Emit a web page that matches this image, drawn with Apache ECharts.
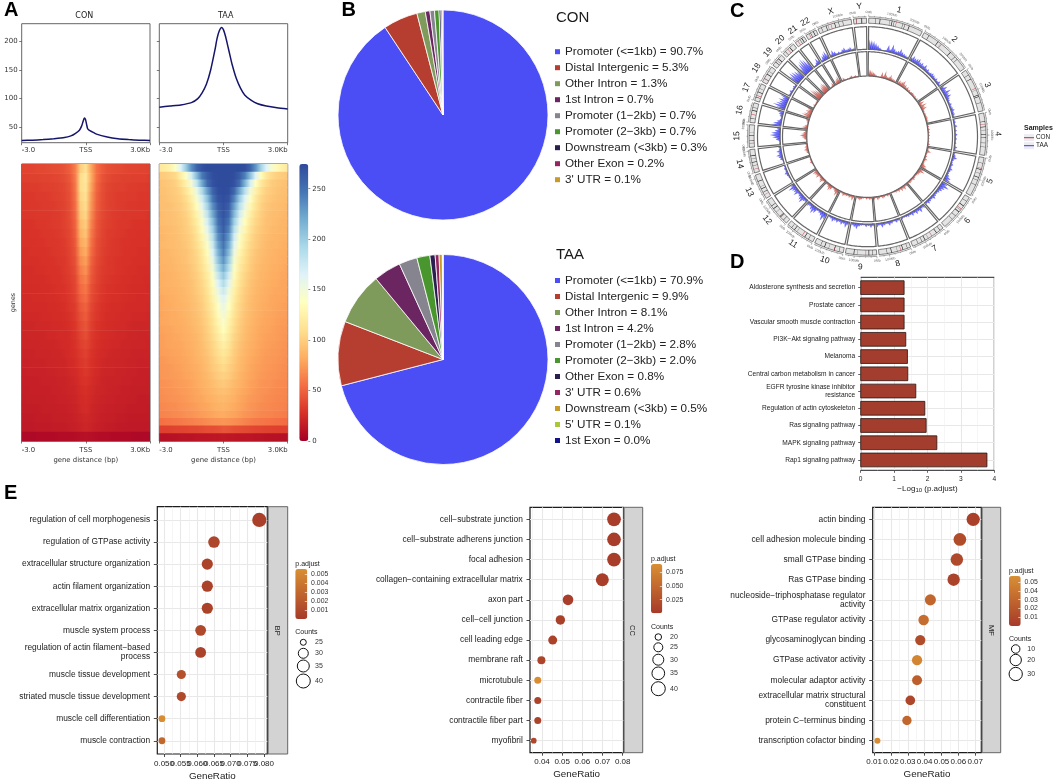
<!DOCTYPE html>
<html><head><meta charset="utf-8">
<style>html,body{margin:0;padding:0;background:#fff}#c{width:1056px;height:784px}</style>
<script src="https://cdn.jsdelivr.net/npm/echarts@6/dist/echarts.min.js"></script>
</head><body><div id="c"></div>
<script>
// ---------- DATA ----------
const profileConX=[-3,-2.5,-2,-1.5,-1,-0.7,-0.5,-0.3,-0.2,-0.13,-0.07,-0.02,0.03,0.08,0.15,0.3,0.5,1,1.5,2,2.5,3];
const profileConY=[27,27.5,28.5,30,32,35,39,45,52,60,66,64,56,48,45,42,38,33,30,28.5,27.5,27];
const profileTaaX=[-3,-2.5,-2,-1.5,-1.2,-1,-0.8,-0.6,-0.4,-0.3,-0.2,-0.085,0,0.1,0.2,0.3,0.4,0.6,0.8,1,1.3,1.6,2,2.5,3];
const profileTaaY=[85,87,89,93,100,110,125,150,185,205,218,224,220,208,192,176,160,135,118,106,97,91,87,84,82];
const heatTaa=[
[118,120,126,140,165,200,235,258,270,274,274,274,274,274,274,274,272,258,232,195,165,145,132,124,118],
[98,99,102,106,122,140,170,210,245,262,272,274,274,274,272,262,242,208,165,135,115,106,101,98,96],
[94,95,97,101,110,125,148,180,222,255,270,274,274,274,270,252,215,170,138,118,106,99,96,94,92],
[93,94,96,99,104,115,130,155,190,228,258,272,274,272,256,222,185,150,125,110,101,97,94,92,91],
[92,93,95,97,101,108,122,145,172,208,248,268,272,268,240,200,165,140,118,105,98,95,93,91,90],
[91,92,93,96,99,105,116,135,160,195,235,262,270,262,225,185,155,130,113,102,96,93,91,90,88],
[89,91,92,94,97,102,111,127,150,182,222,256,268,256,212,172,145,123,108,100,94,91,90,88,87],
[90,91,92,94,96,100,108,121,142,170,208,250,265,248,198,160,136,117,105,98,93,91,89,87,86],
[88,89,90,92,95,99,105,116,135,160,196,243,262,240,185,150,129,112,102,96,92,89,88,86,85],
[87,88,90,91,94,97,102,112,128,150,185,235,255,230,172,141,122,108,99,94,90,88,86,85,84],
[88,89,90,91,93,96,101,109,122,142,175,226,248,220,162,135,118,105,98,93,89,87,86,84,83],
[85,86,88,90,92,94,99,106,117,135,166,216,242,210,153,128,113,102,95,91,88,86,84,83,82],
[85,86,87,89,91,94,98,104,114,130,158,205,232,198,146,123,110,100,94,90,87,85,84,82,81],
[84,85,86,88,90,92,96,102,111,125,150,192,218,186,140,119,107,98,92,88,86,84,83,81,80],
[83,84,85,87,89,91,95,100,108,120,142,178,202,172,134,115,104,96,91,87,85,83,82,80,79],
[82,84,85,86,88,90,93,98,105,116,135,165,188,160,128,112,102,94,89,86,84,82,81,79,78],
[82,83,84,85,87,89,92,97,103,113,130,155,175,150,124,108,99,93,88,85,83,81,80,79,78],
[80,81,83,84,86,88,91,95,101,110,125,147,165,143,120,106,97,91,87,84,82,80,79,78,77],
[80,81,82,84,85,87,90,94,99,108,120,140,157,137,116,104,96,90,86,83,81,80,78,77,76],
[78,80,81,82,84,86,89,92,97,105,116,134,150,131,113,102,94,89,85,82,80,79,77,76,75],
[79,80,81,82,83,85,88,91,96,103,113,129,143,126,110,100,93,88,84,81,79,78,76,75,74],
[77,78,79,81,82,84,86,90,94,101,110,124,136,122,107,98,91,86,83,80,78,77,75,74,73],
[76,77,78,80,81,83,85,88,93,99,107,119,129,117,104,96,90,85,82,79,77,76,75,73,72],
[76,77,78,79,80,82,84,87,91,97,104,114,123,113,101,94,88,84,81,78,76,75,74,72,71],
[75,76,77,78,79,81,83,86,90,95,102,110,117,109,99,92,87,83,80,77,75,74,73,71,70],
[73,74,76,77,78,80,82,85,88,93,99,106,112,105,97,90,85,81,78,76,74,73,72,70,69],
[72,73,74,76,77,79,81,83,87,91,97,102,107,101,95,89,84,80,77,75,73,72,71,69,68],
[72,73,74,75,76,78,80,82,85,89,94,99,102,98,92,87,82,79,76,74,72,71,70,68,67],
[70,71,72,74,75,76,78,81,84,87,91,95,97,94,89,85,81,77,75,72,71,70,68,67,66],
[69,70,71,72,74,75,77,79,82,85,88,91,93,90,86,82,79,76,73,71,70,68,67,66,65],
[68,69,70,71,72,74,76,78,80,83,85,88,89,87,84,80,77,74,72,70,68,67,66,65,64],
[66,67,68,69,71,72,74,76,78,80,83,85,86,84,81,78,75,72,70,68,67,66,65,64,63],
[64,65,66,67,68,70,71,73,75,77,79,81,82,80,78,75,72,70,68,66,65,64,63,62,61],
[56,57,58,59,60,62,63,65,66,68,70,71,72,71,69,67,64,62,60,59,58,57,56,55,54],
[34,34,35,36,36,37,38,38,39,41,41,42,44,43,41,40,39,38,37,36,35,35,34,34,34],
[9,9,10,10,11,11,11,12,12,12,13,13,14,13,13,12,12,12,11,11,10,10,10,9,9]];
const heatCon=[
[36,36,37,38,38,39,40,41,43,48,62,100,112,80,56,47,42,40,39,38,37,37,36,36,35],
[34,34,35,35,36,36,37,38,40,45,60,108,118,82,55,44,39,37,36,35,35,34,34,34,33],
[32,32,33,33,34,34,35,36,38,43,58,108,115,78,52,42,37,35,34,34,33,33,32,32,31],
[31,31,31,32,32,33,34,35,37,42,56,104,112,74,50,41,36,34,33,33,32,32,31,31,30],
[30,30,31,31,32,32,33,34,36,41,54,100,108,72,49,40,36,34,33,32,31,31,30,30,30],
[30,30,30,31,31,31,32,33,35,40,52,96,104,68,47,39,35,33,32,31,31,30,30,30,29],
[29,29,29,30,30,31,32,33,35,39,50,90,99,64,45,38,34,33,31,31,30,29,29,29,28],
[28,28,29,29,30,30,31,32,34,38,48,85,94,60,44,37,33,32,31,30,29,29,28,28,28],
[28,28,28,29,29,30,30,31,33,37,46,80,88,57,42,36,33,31,30,29,29,28,28,28,27],
[27,27,28,28,28,29,30,31,32,36,44,74,82,54,41,35,32,31,30,29,28,28,27,27,27],
[27,27,27,27,28,28,29,30,31,35,42,68,76,50,39,34,31,30,29,28,28,27,27,27,26],
[26,26,26,27,27,28,28,29,31,34,40,62,70,47,38,33,31,30,29,28,27,27,26,26,26],
[26,26,26,26,26,27,28,28,30,33,38,57,64,45,37,32,30,29,28,27,27,26,26,25,25],
[25,25,25,25,26,26,27,28,29,32,37,53,59,42,35,31,29,28,27,27,26,25,25,25,24],
[24,24,25,25,25,26,26,27,28,31,35,49,55,40,34,30,28,27,27,26,25,25,24,24,24],
[24,24,24,24,24,25,25,26,27,30,33,45,50,38,32,29,27,26,26,25,24,24,24,24,23],
[23,23,23,23,24,24,25,25,26,28,32,42,47,36,31,28,26,26,25,24,24,23,23,23,22],
[22,22,22,23,23,23,24,24,25,27,30,39,44,34,29,27,25,25,24,24,23,22,22,22,22],
[21,22,22,22,22,23,23,24,24,26,29,36,41,32,28,26,25,24,23,23,22,22,21,21,21],
[21,21,21,21,22,22,22,23,24,25,28,34,38,31,27,25,24,23,23,22,22,21,21,21,20],
[20,20,20,21,21,21,22,22,23,25,27,32,35,29,26,24,23,22,22,21,21,20,20,20,20],
[19,19,20,20,20,21,21,22,22,24,26,30,33,28,25,23,22,22,21,21,20,20,19,19,19],
[18,19,19,19,19,20,20,21,21,23,24,28,31,27,24,22,21,21,20,20,19,19,18,18,18],
[18,18,18,18,19,19,19,20,20,22,23,27,29,26,23,21,20,20,20,19,19,18,18,18,17],
[17,17,18,18,18,18,19,19,20,21,22,25,27,24,22,21,20,19,19,18,18,17,17,17,17],
[16,17,17,17,17,18,18,19,19,20,21,24,26,23,21,20,19,19,18,18,17,17,16,16,16],
[16,16,16,16,17,17,17,18,18,19,20,23,25,22,20,19,18,18,17,17,16,16,16,16,15],
[15,15,15,16,16,16,17,17,17,18,19,21,23,21,19,18,17,17,16,16,15,15,15,15,15],
[14,14,14,15,15,15,16,16,16,17,18,20,22,20,18,17,16,16,15,15,14,14,14,14,14],
[5,5,5,6,6,6,6,7,7,7,8,9,10,9,8,7,7,6,6,6,6,5,5,5,5]];
const pieConNames=["Promoter (<=1kb)","Distal Intergenic","Other Intron","1st Intron","Promoter (1\u22122kb)","Promoter (2\u22123kb)","Downstream (<3kb)","Other Exon","3' UTR"];
const pieConValues=[90.7,5.3,1.3,0.7,0.7,0.7,0.3,0.2,0.1];
const pieTaaNames=["Promoter (<=1kb)","Distal Intergenic","Other Intron","1st Intron","Promoter (1\u22122kb)","Promoter (2\u22123kb)","Other Exon","3' UTR","Downstream (<3kb)","5' UTR","1st Exon"];
const pieTaaValues=[70.9,9.9,8.1,4.2,2.8,2.0,0.8,0.6,0.5,0.1,0.0];
const chrNames=["1","2","3","4","5","6","7","8","9","10","11","12","13","14","15","16","17","18","19","20","21","22","X","Y"];
const chrLengths=[249,243,198,191,181,171,159,146,141,135,135,133,115,107,102,90,81,78,59,63,48,51,155,59];
const cytoDark=[[.12,.2,.38,.42,.46,.62,.66,.74],[.1,.3,.36,.6,.72,.78],[.12,.22,.5,.62,.66,.8],[.2,.32,.4,.5,.58,.7,.8],[.14,.3,.4,.5,.58,.7],[.12,.26,.4,.46,.6,.72],[.1,.22,.5,.6,.7,.82],[.1,.24,.42,.6,.74],[.12,.24,.62,.72],[.14,.3,.5,.64,.78],[.16,.3,.62,.72,.84],[.14,.3,.5,.64,.76],[.26,.4,.5,.72],[.3,.44,.6,.72],[.3,.5,.64],[.2,.6,.76],[.2,.5,.72],[.22,.5,.7],[.3,.62],[.2,.62],[.5,.7],[.44,.7],[.1,.24,.3,.5,.62,.74],[.2,.6,.64]];
const cytoRed=[.5,.38,.46,.26,.27,.36,.38,.31,.34,.3,.4,.27,.15,.15,.17,.4,.3,.2,.46,.44,.27,.29,.39,.21];
const taaSignal=[
[45,42,38,30,22,12,4,2,6,30,12,38,22,14,18,30,20,16,12,10],
[18,28,22,26,30,20,24,16,26,14,18,10,14,18,16,12,16,10,18,8],
[20,30,18,36,22,28,16,12,8,14,10,14,18,12,14,10],
[8,10,6,14,6,10,4,12,6,10,5,8,5,14,8],
[10,14,22,10,8,14,10,18,12,10,16,28,34],
[30,42,28,22,16,12,14,20,12,14,18,10],
[18,14,26,16,22,12,18,10,14,10,8,10],
[10,16,8,14,20,10,14,22,10,18],
[12,18,10,14,6,8,14,26,18,12],
[16,28,14,20,12,18,14,22,12,10],
[30,40,22,14,10,28,36,24,14,20],
[14,18,34,26,18,12,30,22,24,36,20],
[4,2,6,10,16,8,10,6],
[2,4,14,18,26,14,22,10,12],
[6,4,20,34,46,40,26,16],
[46,36,22,10,6,14,20,30],
[40,58,46,36,42,30,44],
[10,8,14,6,8,12,8],
[50,60,55,48,40],
[40,58,65,72,60,45],
[4,6,14,30,18],
[8,26,34,40,24],
[14,28,18,8,12,6,16,22,10,14,18,8,12],
[1,1,1,1,1]];
const conSignal=[
[30,26,22,18,14,8,3,2,4,24,10,32,16,10,14,24,14,12,10,6],
[12,20,16,22,30,16,18,10,16,8,12,6,10,12,10,8,10,6,10,5],
[14,26,12,30,18,24,10,8,6,10,8,10,12,8,10,6],
[5,8,4,10,4,8,3,8,4,6,3,6,3,10,5],
[8,10,20,8,6,10,8,16,10,8,12,24,30],
[22,30,16,14,10,8,10,14,8,10,12,6],
[14,10,20,12,18,8,14,8,10,6,5,6],
[8,12,6,10,14,6,10,16,6,12],
[8,12,6,10,4,6,10,16,12,8],
[10,22,10,14,8,12,10,16,8,6],
[24,30,16,10,6,20,26,16,10,14],
[10,12,24,18,12,8,22,16,18,24,12],
[3,2,4,6,10,6,6,4],
[2,3,10,12,18,10,14,6,8],
[4,3,14,22,30,24,16,10],
[28,22,14,6,4,8,12,18],
[26,38,30,22,28,20,30],
[6,5,10,4,6,8,5],
[40,55,48,40,30],
[24,34,40,44,38,28],
[3,4,8,18,10],
[6,18,24,30,16],
[6,14,8,4,6,3,8,12,5,7,9,4,6],
[0,0,0,0,0]];
const keggNames=["Aldosterone synthesis and secretion","Prostate cancer","Vascular smooth muscle contraction","PI3K\u2212Akt signaling pathway","Melanoma","Central carbon metabolism in cancer","EGFR tyrosine kinase inhibitor\nresistance","Regulation of actin cytoskeleton","Ras signaling pathway","MAPK signaling pathway","Rap1 signaling pathway"];
const keggValues=[1.3,1.3,1.3,1.35,1.4,1.41,1.65,1.92,1.96,2.28,3.78];
const bpNames=["regulation of cell morphogenesis","regulation of GTPase activity","extracellular structure organization","actin filament organization","extracellular matrix organization","muscle system process","regulation of actin filament\u2212based\nprocess","muscle tissue development","striated muscle tissue development","muscle cell differentiation","muscle contraction"];
const bpRatio=[.0786,.065,.063,.063,.063,.061,.061,.0552,.0552,.0494,.0494];
const bpP=[.0004,.0008,.0005,.0005,.0006,.001,.0006,.0015,.001,.0055,.003];
const bpCount=[41,34,33,33,33,32,32,29,29,26,26];
const ccNames=["cell\u2212substrate junction","cell\u2212substrate adherens junction","focal adhesion","collagen\u2212containing extracellular matrix","axon part","cell\u2212cell junction","cell leading edge","membrane raft","microtubule","contractile fiber","contractile fiber part","myofibril"];
const ccRatio=[.0757,.0757,.0757,.0699,.0529,.0491,.0453,.0397,.0379,.0379,.0379,.0359];
const ccP=[.003,.003,.003,.003,.005,.006,.008,.012,.088,.009,.009,.014];
const ccCount=[39,39,39,36,29,26,25,23,21,21,21,19];
const mfNames=["actin binding","cell adhesion molecule binding","small GTPase binding","Ras GTPase binding","nucleoside\u2212triphosphatase regulator\nactivity","GTPase regulator activity","glycosaminoglycan binding","GTPase activator activity","molecular adaptor activity","extracellular matrix structural\nconstituent","protein C\u2212terminus binding","transcription cofactor binding"];
const mfRatio=[.0688,.0609,.0591,.0572,.0434,.0394,.0374,.0355,.0355,.0315,.0295,.012];
const mfP=[.004,.012,.01,.006,.03,.035,.012,.05,.025,.008,.03,.055];
const mfCount=[30,27,26,25,19,17,16,16,15,14,13,5];

// ---------- STYLE / LAYOUT ----------
const ARIAL='"Liberation Sans",Arial,sans-serif', DJV='"DejaVu Sans",sans-serif';
const RDYLBU=['#a50026','#d73027','#f46d43','#fdae61','#fee090','#ffffbf','#e0f3f8','#abd9e9','#74add1','#4575b4','#2f4a9c'];
const PCOL=['#a63a29','#d98f33'];
const pieColCon=['#4b4ef5','#b53e30','#7f9b5c','#6b2560','#86848f','#48962d','#2a1f4f','#962660','#c89a28'];
const pieColTaa=['#4b4ef5','#b53e30','#7f9b5c','#6b2560','#86848f','#48962d','#2a1f4f','#962660','#c89a28','#a8c838','#12128a'];
const grids=[],xAxes=[],yAxes=[],series=[],visualMaps=[],gfx=[];
const rect=(x0,y0,x1,y1,o={})=>({left:x0,top:y0,width:x1-x0,height:y1-y0,containLabel:false,...o});
function addGrid(g){grids.push(g);return grids.length-1;}
function addX(a){xAxes.push(a);return xAxes.length-1;}
function addY(a){yAxes.push(a);return yAxes.length-1;}
function txt(x,y,s,size,o={}){gfx.push({type:'text',x,y,rotation:o.rot||0,silent:true,z:20,style:{text:s,fontSize:size,fontFamily:o.ff||ARIAL,fontWeight:o.w||'normal',fill:o.c||'#222',align:o.a||'left',verticalAlign:'middle'}});}
const hiddenAxis=(gridIndex,extra)=>({gridIndex,show:false,...extra});
const seq=n=>Array.from({length:n},(_,i)=>i);

// ---------- PANEL A ----------
const aFrame={show:true,borderColor:'#666',borderWidth:1,backgroundColor:'#fff'};
function aXAxis(gi,margin,extra){return {type:'value',gridIndex:gi,min:-3,max:3,interval:3,
  axisLine:{show:false,onZero:false},axisTick:{length:2.5,lineStyle:{color:'#444',width:.7}},splitLine:{show:false},
  axisLabel:{fontSize:6.9,fontFamily:DJV,color:'#333',margin,alignMinLabel:'left',alignMaxLabel:'right',formatter:v=>v===-3?'-3.0':v===3?'3.0Kb':'TSS'},...extra};}
[[21.7,150,profileConX,profileConY,true,'CON',84.3],[159.3,287.7,profileTaaX,profileTaaY,false,'TAA',225.7]].forEach(([x0,x1,px,py,labels,name,cx])=>{
  const gi=addGrid(rect(x0,23.7,x1,142.7,aFrame));
  const xi=addX(aXAxis(gi,4)),yi=addY({type:'value',gridIndex:gi,min:23.1,max:230.7,axisLine:{show:false,onZero:false},splitLine:{show:false},
    axisTick:{length:2.5,customValues:[50,100,150,200],lineStyle:{color:'#444',width:.7}},
    axisLabel:{show:labels,customValues:[50,100,150,200],fontSize:7,fontFamily:DJV,color:'#333',margin:4}});
  series.push({type:'line',name,xAxisIndex:xi,yAxisIndex:yi,data:px.map((v,i)=>[v,py[i]]),showSymbol:false,smooth:.2,lineStyle:{color:'#15156b',width:1.5},silent:true});
  txt(cx,16,name,8,{ff:DJV,a:'center'});
});
const heatSeriesIdx=[];
[[21.7,150,heatCon,'genes','heat CON'],[159.3,287.7,heatTaa,'','heat TAA']].forEach(([x0,x1,tbl,yname,sname])=>{
  const gi=addGrid(rect(x0,164,x1,441,{show:true,borderColor:'#555',borderWidth:1}));
  const xi=addX(aXAxis(gi,6,{name:'gene distance (bp)',nameLocation:'middle',nameGap:15.5,nameTextStyle:{fontSize:6.9,fontFamily:DJV,color:'#333'}}));
  const yi=addY({type:'value',gridIndex:gi,min:0,max:tbl.length,inverse:true,axisLine:{show:false,onZero:false},axisTick:{show:false},axisLabel:{show:false},splitLine:{show:false},
    name:yname,nameLocation:'middle',nameGap:5.5,nameRotate:90,nameTextStyle:{fontSize:6.4,fontFamily:DJV,color:'#333'}});
  heatSeriesIdx.push(series.length);
  series.push({type:'custom',name:sname,xAxisIndex:xi,yAxisIndex:yi,silent:true,encode:{x:1,y:0},
    data:tbl.map((r,j)=>[j,-3,3]),
    renderItem:(p,api)=>{const j=api.value(0),a=api.coord([-3,j]),b=api.coord([3,j+1]),row=tbl[j];
      const stops=row.map((v,i)=>({offset:i/(row.length-1),color:echarts.color.lerp(v/274.5,RDYLBU)}));
      return {type:'rect',shape:{x:a[0],y:a[1],width:b[0]-a[0],height:b[1]-a[1]+.6},style:{fill:new echarts.graphic.LinearGradient(0,0,1,0,stops)}};}});
});
visualMaps.push({type:'continuous',seriesIndex:heatSeriesIdx,dimension:0,min:0,max:274.5,left:299.3,top:164,itemWidth:9,itemHeight:277,padding:0,text:null,calculable:false,realtime:false,inRange:{color:RDYLBU},textStyle:{fontSize:0.1,color:'rgba(0,0,0,0)'},formatter:()=>''});
(()=>{const gi=addGrid(rect(299.3,164,308.3,441));
  addX(hiddenAxis(gi,{type:'value',min:0,max:1}));
  addY({type:'value',gridIndex:gi,position:'right',min:0,max:274.5,interval:50,axisLine:{show:false,onZero:false},splitLine:{show:false},axisTick:{length:2,lineStyle:{color:'#444',width:.6}},axisLabel:{fontSize:7,fontFamily:DJV,color:'#333',margin:4,showMaxLabel:false}});
})();

// ---------- PANEL B ----------
function addPie(names,vals,cols,cy,ltop,title,ty){
  series.push({type:'pie',name:title,center:[443,cy],radius:[0,105],startAngle:90,clockwise:true,label:{show:false},labelLine:{show:false},silent:true,
    data:names.map((n,i)=>({name:n,value:vals[i],itemStyle:{color:cols[i],borderColor:'#fff',borderWidth:.8}}))});
  txt(556,ty,title,15,{c:'#1a1a1a'});
  return {orient:'vertical',left:555,top:ltop,padding:0,itemWidth:5,itemHeight:5,itemGap:4,selectedMode:false,icon:'rect',
    data:names.map((n,i)=>({name:n,itemStyle:{color:cols[i],borderWidth:0},textStyle:{fontSize:11.7,fontFamily:ARIAL,color:'#222',lineHeight:12}})),
    formatter:n=>n+' = '+vals[names.indexOf(n)].toFixed(1)+'%'};
}
const legends=[addPie(pieConNames,pieConValues,pieColCon,115,45.7,'CON',17.5),addPie(pieTaaNames,pieTaaValues,pieColTaa,359.5,274.5,'TAA',255)];

// ---------- PANEL C ----------
const GAP=10,offsets=[];let total=0;chrLengths.forEach(l=>{offsets.push(total);total+=l+GAP;});
const pathPts=(api,r0,r1,a0,a1)=>{const n=Math.max(2,Math.ceil((a1-a0)/6)),p=[];for(let i=0;i<=n;i++)p.push(api.coord([r1,a0+(a1-a0)*i/n]));for(let i=n;i>=0;i--)p.push(api.coord([r0,a0+(a1-a0)*i/n]));return p;};
const TR={ideo:[113.4,118.5],taa:[87.4,110],con:[60.7,85]};
function spikeSeries(name,sig,track,color){
  const d=[];sig.forEach((a,i)=>a.forEach((h,b)=>d.push([i,b,h])));
  series.push({type:'custom',name,coordinateSystem:'polar',polarIndex:0,silent:true,data:d,z:3,encode:{radius:0,angle:1},
    renderItem:(p,api)=>{const i=api.value(0),b=api.value(1),h=api.value(2),n=sig[i].length,L=chrLengths[i],w=L/n,pos=offsets[i]+(b+.5)*w,r0=track[0],rng=track[1]-track[0];
      if(!h)return null;
      const lo=Math.max(offsets[i],pos-w*.95),hi=Math.min(offsets[i]+L,pos+w*.95);
      return {type:'polygon',shape:{points:[api.coord([r0,lo]),api.coord([r0+rng*h/100,pos]),api.coord([r0,hi])]},style:{fill:color,opacity:.72,stroke:null}};}});
}
series.push({type:'custom',name:'tracks',coordinateSystem:'polar',polarIndex:0,silent:true,z:4,encode:{radius:0,angle:1},
  data:chrNames.map((_,i)=>[i,i]),
  renderItem:(p,api)=>{const i=api.value(0),a0=offsets[i],a1=a0+chrLengths[i],ch=[];
    [TR.taa,TR.con].forEach(t=>ch.push({type:'polygon',shape:{points:pathPts(api,t[0],t[1],a0,a1)},style:{fill:'none',stroke:'#666',lineWidth:1.2}}));
    ch.push({type:'polygon',shape:{points:pathPts(api,TR.ideo[0],TR.ideo[1],a0,a1)},style:{fill:'#e4e4e4',stroke:'#333',lineWidth:.6}});
    cytoDark[i].forEach((f,k)=>{const s=a0+f*chrLengths[i],w=k%2?2.6:1.6;ch.push({type:'polygon',shape:{points:pathPts(api,TR.ideo[0],TR.ideo[1],s,s+w)},style:{fill:k%3==2?'#666':'#0c0c0c'}});});
    const cr=a0+cytoRed[i]*chrLengths[i];ch.push({type:'polygon',shape:{points:pathPts(api,TR.ideo[0],TR.ideo[1],cr,cr+2)},style:{fill:'#c8434a'}});
    ch.push({type:'polyline',shape:{points:Array.from({length:9},(_,k)=>api.coord([120,a0+(a1-a0)*k/8]))},style:{stroke:'#444',lineWidth:.5,fill:'none'}});
    for(let m=0;m<=chrLengths[i];m+=25){const pt0=api.coord([120,a0+m]),pt1=api.coord([m%100?121:122,a0+m]);ch.push({type:'line',shape:{x1:pt0[0],y1:pt0[1],x2:pt1[0],y2:pt1[1]},style:{stroke:'#444',lineWidth:.4}});}
    const flip=th=>(th>Math.PI/2&&th<Math.PI*1.5)?th-Math.PI:th;
    for(let m=0;m<=chrLengths[i];m+=100){const pos=a0+m,th=(pos/total)*2*Math.PI+.009,pt=api.coord([124.5,pos]);
      ch.push({type:'text',x:pt[0],y:pt[1],rotation:-flip(th),style:{text:m+'Mb',fontSize:3.4,fontFamily:ARIAL,fill:'#666',align:'center',verticalAlign:'middle'}});}
    const mid=a0+chrLengths[i]/2,th=(mid/total)*2*Math.PI+.009,lp=api.coord([130.5,mid]);
    ch.push({type:'text',x:lp[0],y:lp[1],rotation:-flip(th),style:{text:chrNames[i],fontSize:8.5,fontFamily:ARIAL,fill:'#222',align:'center',verticalAlign:'middle'}});
    return {type:'group',children:ch};}});
spikeSeries('TAA',taaSignal,TR.taa,'#3a3af0');
spikeSeries('CON',conSignal,TR.con,'#c0453c');
txt(1024,128,'Samples',7,{w:'bold'});
[[137.7,'CON','#b8352c'],[145.7,'TAA','#3a3af0']].forEach(([y,n,c])=>{
  gfx.push({type:'rect',x:1024,y:y-3.5,silent:true,shape:{width:10,height:7},style:{fill:'#ececf2'}});
  gfx.push({type:'line',silent:true,z:21,shape:{x1:1024,y1:y,x2:1034,y2:y},style:{stroke:c,lineWidth:1}});
  txt(1036,y,n,6.4);
});

// ---------- PANEL D ----------
function ggGrid(w){return {m:{show:true,lineStyle:{color:'#e8e8e8',width:w}},n:{show:true,lineStyle:{color:'#efefef',width:w*.55}}};}
(()=>{
  const gi=addGrid(rect(860.7,277.3,994.3,470.3,{show:true,borderColor:'#222',borderWidth:1}));
  const n=keggNames.length,g=ggGrid(1);
  const xi=addX({type:'value',gridIndex:gi,min:0,max:4,interval:1,axisLine:{show:false,onZero:false},axisTick:{length:2.5,lineStyle:{color:'#222',width:.7}},splitLine:g.m,
    axisLabel:{fontSize:6.6,fontFamily:ARIAL,color:'#222',margin:5,showMinLabel:true,showMaxLabel:true},name:'{a|\u2212Log}{s|10}{a| (p.adjust)}',nameLocation:'middle',nameGap:13.5,
    nameTextStyle:{rich:{a:{fontSize:8,fontFamily:ARIAL,color:'#222'},s:{fontSize:6,fontFamily:ARIAL,color:'#222',verticalAlign:'bottom',padding:[4,0,0,0]}}}});
  addX({type:'value',gridIndex:gi,position:'top',min:0,max:4,axisLine:{show:false,onZero:false},axisLabel:{show:false},axisTick:{show:false,customValues:[.5,1.5,2.5,3.5]},splitLine:g.n});
  const yi=addY({type:'value',gridIndex:gi,min:-.6,max:n-.4,axisLine:{show:false,onZero:false},splitLine:g.m,
    axisTick:{length:2.5,customValues:seq(n),lineStyle:{color:'#222',width:.7}},
    axisLabel:{customValues:seq(n),margin:5.5,fontSize:6.6,lineHeight:7.5,fontFamily:ARIAL,color:'#222',align:'right',showMinLabel:true,showMaxLabel:true,formatter:v=>keggNames[n-1-v]}});
  series.push({type:'custom',name:'KEGG',xAxisIndex:xi,yAxisIndex:yi,silent:true,encode:{x:0,y:1},z:3,
    data:keggValues.map((v,i)=>[v,n-1-i]),
    renderItem:(p,api)=>{const a=api.coord([0,api.value(1)]),b=api.coord([api.value(0),api.value(1)]),h=api.size([0,1])[1]*.8;
      return {type:'rect',shape:{x:a[0],y:a[1]-h/2,width:b[0]-a[0],height:h},style:{fill:'#a33d2d',stroke:'#2a1512',lineWidth:.8}};}});
})();

// ---------- PANEL E ----------
function interp(tbl,c){if(c<=tbl[0][0])return tbl[0][1];for(let i=1;i<tbl.length;i++)if(c<=tbl[i][0]){const [a,x]=tbl[i-1],[b,y]=tbl[i];return x+(y-x)*(c-a)/(b-a);}return tbl[tbl.length-1][1];}
function dotPanel(o){
  const gi=addGrid(rect(o.x0,o.y0,o.x1,o.y1,{show:true,borderColor:'#1c1c1c',borderWidth:1.2}));
  addGrid(rect(o.x1+.8,o.y0,o.sx,o.y1,{show:true,backgroundColor:'#d3d3d3',borderColor:'#666',borderWidth:1}));
  const sg=grids.length-1;addX(hiddenAxis(sg,{type:'value',min:0,max:1}));addY(hiddenAxis(sg,{type:'value',min:0,max:1}));
  txt(o.stx,(o.y0+o.y1)/2+.5,o.strip,7.5,{a:'center',rot:-Math.PI/2});
  const n=o.names.length,g=ggGrid(1.1);
  // end sentinels keep the overlap check from dropping the tightly packed tick labels
  const xLabelVals=[o.xmin,...o.major,o.xmax];
  const xi=addX({type:'value',gridIndex:gi,min:o.xmin,max:o.xmax,axisLine:{show:false,onZero:false},splitLine:g.m,
    axisTick:{length:3,customValues:o.major,lineStyle:{color:'#222',width:.8}},
    axisLabel:{customValues:xLabelVals,fontSize:8,fontFamily:ARIAL,color:'#222',margin:5.5,hideOverlap:false,formatter:v=>(v===o.xmin||v===o.xmax)?' ':v.toFixed(o.dec)},
    name:'GeneRatio',nameLocation:'middle',nameGap:17,nameTextStyle:{fontSize:9.8,fontFamily:ARIAL,color:'#222'}});
  addX({type:'value',gridIndex:gi,position:'top',min:o.xmin,max:o.xmax,axisLine:{show:false,onZero:false},axisLabel:{show:false},axisTick:{show:false,customValues:o.minor},splitLine:g.n});
  const yi=addY({type:'value',gridIndex:gi,min:-.6,max:n-.4,axisLine:{show:false,onZero:false},splitLine:g.m,
    axisTick:{length:3.5,customValues:seq(n),lineStyle:{color:'#222',width:.8}},
    axisLabel:{customValues:seq(n),margin:7.2,fontSize:8.4,lineHeight:9,fontFamily:ARIAL,color:'#1a1a1a',align:'right',showMinLabel:true,showMaxLabel:true,formatter:v=>o.names[n-1-v]}});
  const si=series.length;
  series.push({type:'scatter',name:o.strip,xAxisIndex:xi,yAxisIndex:yi,silent:true,z:3,clip:false,
    data:o.ratio.map((r,i)=>[r,n-1-i,o.p[i],o.count[i]]),symbolSize:v=>interp(o.sizes,v[3]),itemStyle:{opacity:1}});
  const c=o.cb;
  visualMaps.push({type:'continuous',seriesIndex:si,dimension:2,min:0,max:c.max,left:c.x0,top:c.y0,itemWidth:c.x1-c.x0,itemHeight:c.y1-c.y0,padding:0,text:null,calculable:false,realtime:false,inRange:{color:PCOL},textStyle:{fontSize:0.1,color:'rgba(0,0,0,0)'},formatter:()=>''});
  const bg=addGrid(rect(c.x0,c.y0,c.x1,c.y1));
  addX(hiddenAxis(bg,{type:'value',min:0,max:1}));
  addY({type:'value',gridIndex:bg,position:'right',min:0,max:c.max,z:10,axisLine:{show:false,onZero:false},splitLine:{show:false},
    axisTick:{inside:true,length:2.5,customValues:c.ticks,lineStyle:{color:'#fff',width:.6}},
    axisLabel:{customValues:c.ticks,fontSize:6.9,fontFamily:ARIAL,color:'#333',margin:3.8,showMinLabel:true,showMaxLabel:true,formatter:v=>v.toFixed(c.dec)}});
  txt(c.x0,c.y0-5.3,'p.adjust',7);
  txt(c.x0,o.cntY,'Counts',7);
  o.legend.forEach(([cnt,y])=>{
    gfx.push({type:'circle',silent:true,z:20,shape:{cx:o.lcx,cy:y,r:interp(o.sizes,cnt)/2},style:{fill:'none',stroke:'#111',lineWidth:1}});
    txt(o.ltx,y,String(cnt),7,{c:'#333'});
  });
}
dotPanel({x0:157.3,x1:267.3,y0:506.7,y1:754,sx:287.7,stx:277.3,strip:'BP',names:bpNames,ratio:bpRatio,p:bpP,count:bpCount,
  xmin:.048,xmax:.081,dec:3,major:[.05,.055,.06,.065,.07,.075,.08],minor:[.0525,.0575,.0625,.0675,.0725,.0775],
  sizes:[[25,6],[30,10],[35,12],[40,14],[41,14.2]],
  cb:{x0:295.3,x1:307.3,y0:569,y1:619,max:.0056,ticks:[.001,.002,.003,.004,.005],dec:3},cntY:632,lcx:303.3,ltx:315,legend:[[25,642.3],[30,653.3],[35,666],[40,681]]});
dotPanel({x0:530,x1:623.3,y0:507.3,y1:752.7,sx:642.7,stx:632.3,strip:'CC',names:ccNames,ratio:ccRatio,p:ccP,count:ccCount,
  xmin:.03405,xmax:.0803,dec:2,major:[.04,.05,.06,.07,.08],minor:[.035,.045,.055,.065,.075],
  sizes:[[19,5.7],[20,6.5],[25,9],[30,11],[35,12.7],[40,14]],
  cb:{x0:651,x1:662.3,y0:564,y1:613.3,max:.09,ticks:[.025,.05,.075],dec:3},cntY:626.7,lcx:658.3,ltx:670,legend:[[20,637],[25,647.3],[30,659.7],[35,673.3],[40,688.7]]});
dotPanel({x0:872.7,x1:981.3,y0:507.3,y1:752.7,sx:1000.7,stx:991,strip:'MF',names:mfNames,ratio:mfRatio,p:mfP,count:mfCount,
  xmin:.0092,xmax:.0736,dec:2,major:[.01,.02,.03,.04,.05,.06,.07],minor:[.015,.025,.035,.045,.055,.065],
  sizes:[[5,6],[10,8.5],[20,11.4],[30,13.3]],
  cb:{x0:1009,x1:1020.7,y0:576,y1:626,max:.057,ticks:[.01,.02,.03,.04,.05],dec:2},cntY:639,lcx:1015.7,ltx:1027.3,legend:[[10,649],[20,660],[30,674]]});

// ---------- PANEL LETTERS ----------
[['A',4,10.5],['B',341.5,10.5],['C',730,11],['D',730,262],['E',4,493]].forEach(([s,x,y])=>txt(x,y,s,20,{w:'bold',c:'#000'}));

const chart=echarts.init(document.getElementById('c'));
chart.setOption({animation:false,backgroundColor:'#fff',grid:grids,xAxis:xAxes,yAxis:yAxes,series,visualMap:visualMaps,legend:legends,
  polar:{center:[867.5,136.7],radius:[0,120]},
  angleAxis:{type:'value',polarIndex:0,min:0,max:total,startAngle:89.4,show:false},
  radiusAxis:{type:'value',polarIndex:0,min:0,max:120,show:false},
  graphic:{elements:gfx}});
</script></body></html>
